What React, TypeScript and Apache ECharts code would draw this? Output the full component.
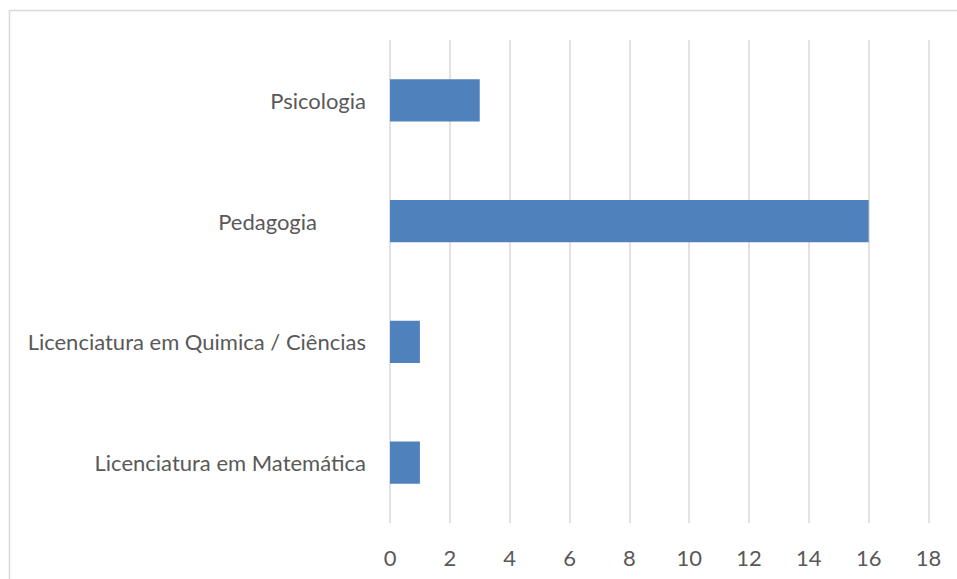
import React, { useEffect, useRef } from "react";
import * as echarts from "echarts";

const categories = [
  "Licenciatura em Matemática",
  "Licenciatura em Quimica / Ciências",
  "Pedagogia",
  "Psicologia",
];
const values = [1, 1, 16, 3];
const xTicksMin = 0;
const xTicksMax = 18;
const xTickInterval = 2;

export default function App() {
  const ref = useRef<HTMLDivElement>(null);
  useEffect(() => {
    if (!ref.current) return;
    const chart = echarts.init(ref.current, null, { renderer: "svg" });
    chart.setOption({
      animation: false,
      backgroundColor: "#ffffff",
      textStyle: { fontFamily: "Lato" },
      graphic: [
        {
          type: "rect",
          shape: { x: 9.5, y: 10.5, width: 1200, height: 1000 },
          style: { fill: "none", stroke: "#d9d9d9", lineWidth: 1.5 },
          silent: true,
        },
      ],
      grid: { left: 390, right: 28.5, top: 40, bottom: 56, containLabel: false },
      xAxis: {
        type: "value",
        min: xTicksMin,
        max: xTicksMax,
        interval: xTickInterval,
        axisLine: { show: false },
        axisTick: { show: false },
        axisLabel: { color: "#595959", fontSize: 22, margin: 23, fontFamily: "Lato" },
        splitLine: { show: true, lineStyle: { color: "#d9d9d9", width: 1.5 } },
      },
      yAxis: {
        type: "category",
        data: categories,
        axisLine: { show: false },
        axisTick: { show: false },
        axisLabel: {
          color: "#595959",
          fontSize: 22,
          margin: 24,
          fontFamily: "Lato",
          formatter: (v: string) => (v === "Pedagogia" ? "{p|" + v + "}" : v),
          rich: {
            p: { color: "#595959", fontSize: 22, fontFamily: "Lato", padding: [0, 49, 0, 0] },
          },
        },
        splitLine: { show: false },
      },
      series: [
        {
          type: "bar",
          data: values,
          barWidth: "35%",
          itemStyle: { color: "#4f81bd" },
        },
      ],
    });
    return () => chart.dispose();
  }, []);
  return (
    <div
      ref={ref}
      style={{ position: "absolute", left: 0, top: 0, width: 957, height: 579 }}
    />
  );
}
